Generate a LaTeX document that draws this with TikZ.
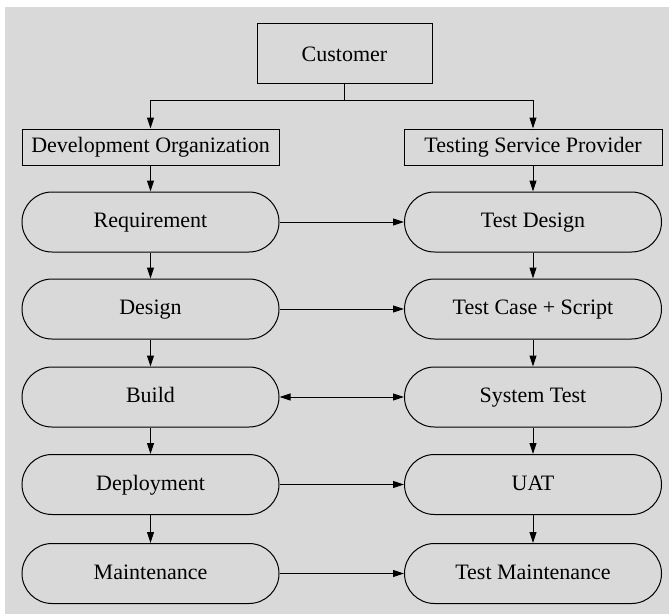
\documentclass[tikz,border=0pt]{standalone}
\usepackage{fontspec}
\setmainfont{Liberation Serif}
\usetikzlibrary{arrows.meta}
\definecolor{panel}{HTML}{D9D9D9}
\tikzset{
  base/.style={draw=black, line width=1pt, font=\fontsize{22}{26}\selectfont, inner sep=0pt,
    align=center, text height=16.5pt, text depth=5pt},
  boxnode/.style={base, rectangle},
  stadium/.style={base, rectangle, rounded corners=30pt, minimum width=257pt, minimum height=60pt},
  conn/.style={line width=1pt, -{Triangle[length=11pt,width=7pt]}},
  bothconn/.style={line width=1pt, {Triangle[length=11pt,width=7pt]}-{Triangle[length=11pt,width=7pt]}}
}
\begin{document}
\begin{tikzpicture}[x=1pt, y=-1pt]
  \useasboundingbox (0,0) rectangle (669,614);
  \fill[panel] (5,7) rectangle (669,614);

  % top of the hierarchy
  \node[boxnode, minimum width=175pt, minimum height=60pt, text height=19pt, text depth=3pt] (cust) at (344.5,53) {Customer};
  \node[boxnode, minimum width=257pt, minimum height=36pt] (dev) at (150.5,147) {Development Organization};
  \node[boxnode, minimum width=258pt, minimum height=36pt] (tsp) at (533,147) {Testing Service Provider};

  % development life cycle
  \node[stadium] (req)  at (150.5,222) {Requirement};
  \node[stadium] (des)  at (150.5,309) {Design};
  \node[stadium] (bld)  at (150.5,397) {Build};
  \node[stadium] (dep)  at (150.5,484.5) {Deployment};
  \node[stadium] (mnt)  at (150.5,573.5) {Maintenance};

  % testing life cycle
  \node[stadium] (tdes) at (533,222) {Test Design};
  \node[stadium] (tcs)  at (533,309) {Test Case + Script};
  \node[stadium] (sys)  at (533,397) {System Test};
  \node[stadium] (uat)  at (533,484.5) {UAT};
  \node[stadium] (tmnt) at (533,573.5) {Test Maintenance};

  % customer branches out to both parties
  \draw[conn] (cust.south) -- ++(0,17) -| (dev.north);
  \draw[conn] (cust.south) -- ++(0,17) -| (tsp.north);

  % vertical flow, left column
  \draw[conn] (dev.south) -- (req.north);
  \draw[conn] (req.south) -- (des.north);
  \draw[conn] (des.south) -- (bld.north);
  \draw[conn] (bld.south) -- (dep.north);
  \draw[conn] (dep.south) -- (mnt.north);

  % vertical flow, right column
  \draw[conn] (tsp.south) -- (tdes.north);
  \draw[conn] (tdes.south) -- (tcs.north);
  \draw[conn] (tcs.south) -- (sys.north);
  \draw[conn] (sys.south) -- (uat.north);
  \draw[conn] (uat.south) -- (tmnt.north);

  % hand-overs between the two columns
  \draw[conn] (req.east) -- (tdes.west);
  \draw[conn] (des.east) -- (tcs.west);
  \draw[bothconn] (bld.east) -- (sys.west);
  \draw[conn] (dep.east) -- (uat.west);
  \draw[conn] (mnt.east) -- (tmnt.west);
\end{tikzpicture}
\end{document}
